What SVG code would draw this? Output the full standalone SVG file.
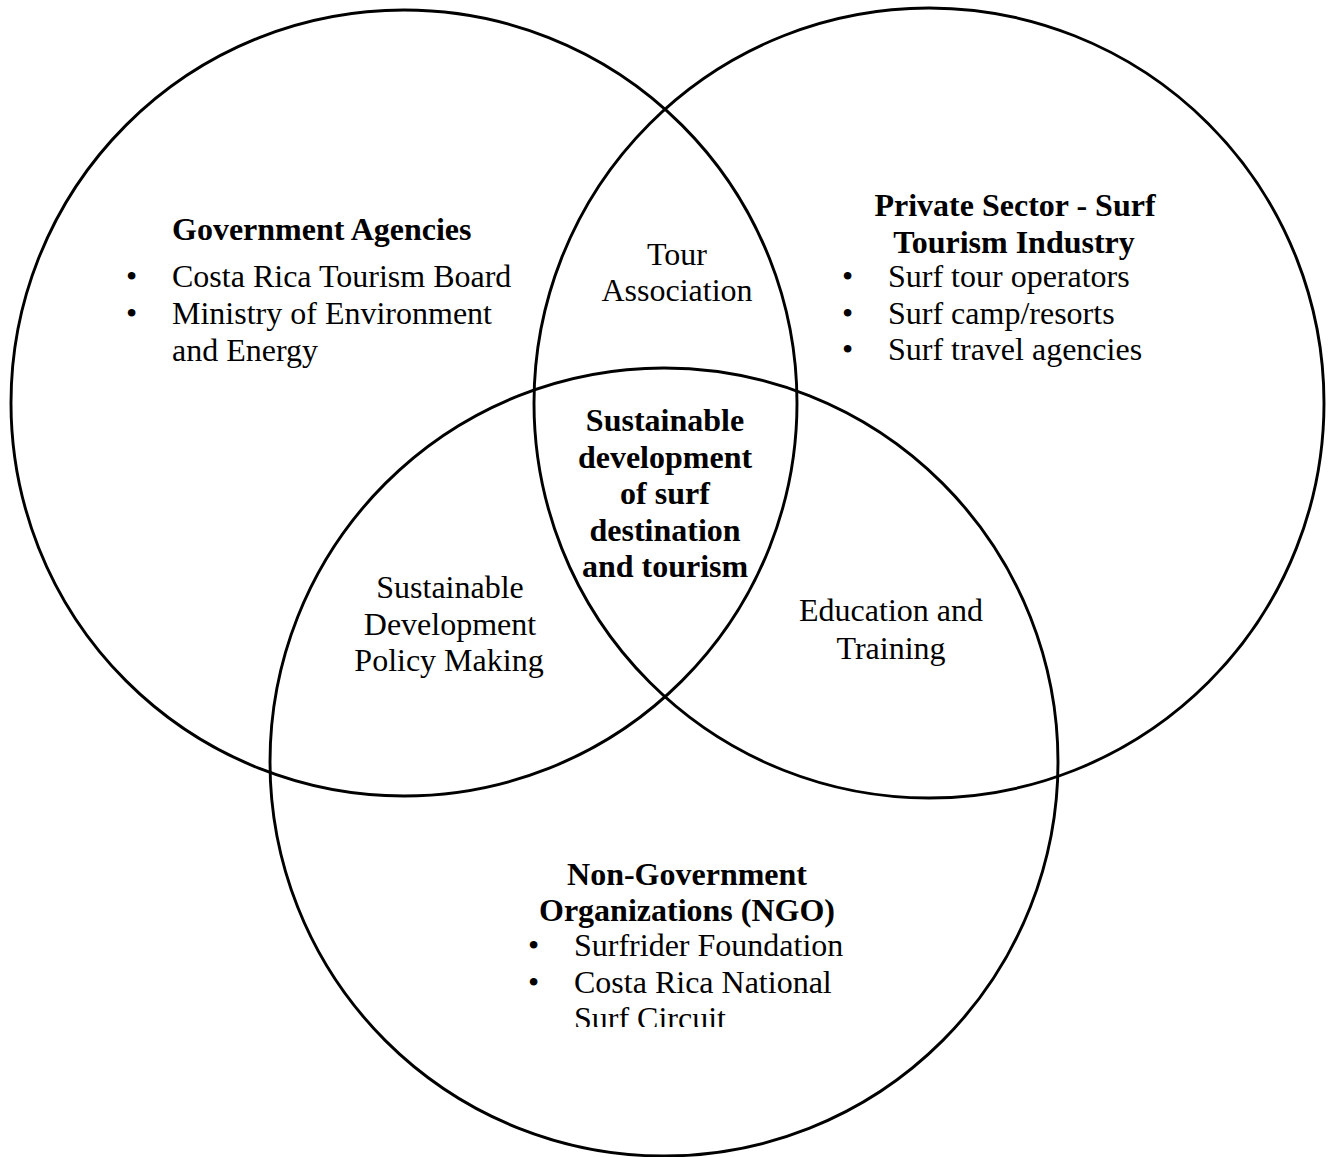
<svg xmlns="http://www.w3.org/2000/svg" width="1330" height="1157" viewBox="0 0 1330 1157">
<style>
.c{fill:none;stroke:#000;stroke-width:2.9}
text{font-family:"Liberation Serif","Times New Roman",serif;font-size:32px;fill:#000}
.b{font-weight:bold}
.m{text-anchor:middle}
</style>
<defs><clipPath id="cut"><rect x="0" y="0" width="1330" height="1027"/></clipPath></defs>
<rect width="1330" height="1157" fill="#fff"/>
<g id="circles">
<circle class="c" cx="404" cy="403" r="393"/>
<circle class="c" cx="929" cy="403" r="395"/>
<circle class="c" cx="664" cy="762" r="394"/>
</g>
<g id="government">
<text class="b" x="172" y="240">Government Agencies</text>
<text x="126" y="287">•</text><text x="172" y="287">Costa Rica Tourism Board</text>
<text x="126" y="324">•</text><text x="172" y="324">Ministry of Environment</text>
<text x="172" y="361">and Energy</text>
</g>
<g id="private">
<text class="b m" x="1015" y="216">Private Sector - Surf</text>
<text class="b m" x="1014" y="253">Tourism Industry</text>
<text x="842" y="287">•</text><text x="888" y="287">Surf tour operators</text>
<text x="842" y="324">•</text><text x="888" y="324">Surf camp/resorts</text>
<text x="842" y="360">•</text><text x="888" y="360">Surf travel agencies</text>
</g>
<g id="tour">
<text class="m" x="677" y="265">Tour</text>
<text class="m" x="677" y="301">Association</text>
</g>
<g id="center">
<text class="b m" x="665" y="431">Sustainable</text>
<text class="b m" x="665" y="468">development</text>
<text class="b m" x="665" y="504">of surf</text>
<text class="b m" x="665" y="541">destination</text>
<text class="b m" x="665" y="577">and tourism</text>
</g>
<g id="policy">
<text class="m" x="450" y="598">Sustainable</text>
<text class="m" x="450" y="635">Development</text>
<text class="m" x="449" y="671">Policy Making</text>
</g>
<g id="education">
<text class="m" x="891" y="621">Education and</text>
<text class="m" x="891" y="659">Training</text>
</g>
<g id="ngo">
<text class="b m" x="687" y="885">Non-Government</text>
<text class="b m" x="687" y="921">Organizations (NGO)</text>
<text x="528" y="956">•</text><text x="574" y="956">Surfrider Foundation</text>
<text x="528" y="993">•</text><text x="574" y="993">Costa Rica National</text>
<text x="574" y="1029" clip-path="url(#cut)">Surf Circuit</text>
</g>
</svg>
